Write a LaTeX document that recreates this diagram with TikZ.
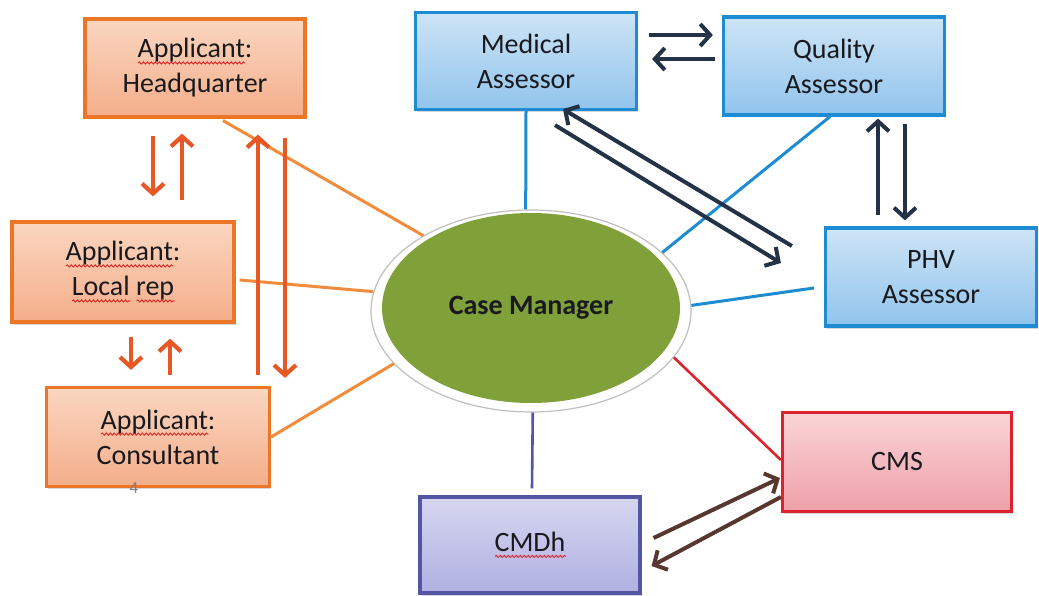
\documentclass[tikz,border=0pt]{standalone}
\usepackage{fontspec}
\setmainfont{Carlito}
\usetikzlibrary{shapes.geometric,arrows.meta,shadows,decorations.pathmorphing}

\definecolor{textdark}{RGB}{25,25,30}
\definecolor{orangeedge}{RGB}{236,118,40}
\definecolor{orangetop}{RGB}{250,214,192}
\definecolor{orangebot}{RGB}{244,174,138}
\definecolor{orangelink}{RGB}{240,140,60}
\definecolor{orangearrow}{RGB}{232,88,38}
\definecolor{blueedge}{RGB}{30,140,210}
\definecolor{bluetop}{RGB}{205,228,246}
\definecolor{bluebot}{RGB}{145,196,236}
\definecolor{navy}{RGB}{35,50,70}
\definecolor{cmgreen}{RGB}{128,160,58}
\definecolor{redEdge}{RGB}{220,35,45}
\definecolor{pinktop}{RGB}{250,212,214}
\definecolor{pinkbot}{RGB}{238,160,170}
\definecolor{purpleEdge}{RGB}{85,85,165}
\definecolor{lavtop}{RGB}{214,214,240}
\definecolor{lavbot}{RGB}{176,176,226}
\definecolor{brownarrow}{RGB}{88,56,46}
\definecolor{wavered}{RGB}{225,40,40}
\definecolor{pagegray}{RGB}{120,125,135}

% red wavy underline under a word
\newsavebox\spellbox
\newcommand\spellmark[1]{%
  \sbox\spellbox{#1}%
  \rlap{\raisebox{-5pt}{\tikz[baseline=(w.base), x=1pt, y=1pt]{%
    \coordinate (w) at (0pt,0pt);
    \draw[wavered, line width=0.9pt, decorate,
      decoration={snake, amplitude=1.1pt, segment length=4pt}]
      (0pt,0pt) -- (\wd\spellbox,0pt);}}}%
  \usebox\spellbox}

\tikzset{
  box/.style={draw, line width=3.2pt, align=center, text=textdark,
    font=\fontsize{28}{35}\selectfont, inner sep=0pt,
    drop shadow={shadow xshift=1.5pt, shadow yshift=-2.5pt, opacity=0.3}},
  applicant/.style={box, draw=orangeedge, top color=orangetop, bottom color=orangebot},
  assessor/.style={box, draw=blueedge, top color=bluetop, bottom color=bluebot},
  cmsbox/.style={box, draw=redEdge, top color=pinktop, bottom color=pinkbot},
  cmdhbox/.style={box, draw=purpleEdge, top color=lavtop, bottom color=lavbot},
  orangelinkline/.style={draw=orangelink, line width=3pt},
  bluelinkline/.style={draw=blueedge, line width=3pt},
  oarrow/.style={draw=orangearrow, line width=4.2pt,
    -{Straight Barb[length=10pt,width=22pt,line width=4.2pt]}},
  narrow/.style={draw=navy, line width=4pt,
    -{Straight Barb[length=10pt,width=22pt,line width=4pt]}},
  barrow/.style={draw=brownarrow, line width=4pt,
    -{Straight Barb[length=10pt,width=22pt,line width=4pt]}},
}

\begin{document}
\begin{tikzpicture}[x=1pt,y=-1pt]
\useasboundingbox (0,0) rectangle (1039,596);

% applicant side
\node[applicant, minimum width=220pt, minimum height=98pt] (hq) at (195,68)
  {\spellmark{Applicant}:\\Headquarter};
\node[applicant, minimum width=222pt, minimum height=100pt] (loc) at (123,272)
  {\spellmark{Applicant}:\\\spellmark{Local} \spellmark{rep}};
\node[applicant, minimum width=223pt, minimum height=99pt] (con) at (158,437)
  {\spellmark{Applicant}:\\Consultant};
\node[text=pagegray, font=\fontsize{17}{17}\selectfont] (pagenum) at (134,488) {4};

% assessors
\node[assessor, minimum width=221pt, minimum height=97pt] (med) at (526,61)
  {Medical\\Assessor};
\node[assessor, minimum width=221pt, minimum height=98pt] (qua) at (834,66)
  {Quality\\Assessor};
\node[assessor, minimum width=211pt, minimum height=98pt] (phv) at (931,277)
  {PHV\\Assessor};

% committees
\node[cmsbox, minimum width=229pt, minimum height=99pt] (cms) at (897,462) {CMS};
\node[cmdhbox, minimum width=220pt, minimum height=96pt] (cmdh) at (530,545)
  {\spellmark{CMDh}};

% case manager
\node[ellipse, draw=gray!50, line width=1.2pt, fill=white,
  minimum width=320pt, minimum height=202pt] (cm) at (531,311) {};
\node[ellipse, fill=cmgreen, inner sep=0pt,
  minimum width=298pt, minimum height=190pt, text=textdark,
  font=\fontsize{28}{35}\selectfont\bfseries] (cmcore) at (531,308) {Case Manager};

% links to the case manager
\draw[orangelinkline] ([xshift=28pt,yshift=-2pt]hq.south) -- (cm.145);
\draw[orangelinkline] ([xshift=4pt,yshift=-8pt]loc.east) -- (cm.173);
\draw[orangelinkline] (con.east) -- (cm.-159);
\draw[bluelinkline] (med.south) -- (cm.93);
\draw[bluelinkline] ([xshift=-4pt]qua.south) -- (cm.24);
\draw[bluelinkline] ([xshift=-10pt,yshift=-11pt]phv.west) -- (cm.2);
\draw[draw=redEdge, line width=2.6pt] (cm.-18) -- ([yshift=2pt]cms.west);
\draw[draw=purpleEdge, line width=2.6pt] (cm.-89.5) -- ([xshift=2pt,yshift=7pt]cmdh.north);

% applicant exchanges
\draw[oarrow] ([xshift=-42pt,yshift=-17pt]hq.south) -- ([xshift=30pt,yshift=24pt]loc.north);
\draw[oarrow] ([xshift=59pt,yshift=20pt]loc.north) -- ([xshift=-13pt,yshift=-15pt]hq.south);
\draw[oarrow] ([xshift=100pt,yshift=11pt]con.north) -- ([xshift=63pt,yshift=-16pt]hq.south);
\draw[oarrow] ([xshift=90pt,yshift=-19pt]hq.south) -- ([xshift=127pt,yshift=8pt]con.north);
\draw[oarrow] ([xshift=8pt,yshift=-13pt]loc.south) -- ([xshift=-27pt,yshift=16pt]con.north);
\draw[oarrow] ([xshift=12pt,yshift=11pt]con.north) -- ([xshift=47pt,yshift=-15pt]loc.south);

% assessor exchanges
\draw[narrow] ([xshift=11pt,yshift=26pt]med.east) -- ([xshift=-9pt,yshift=31pt]qua.west);
\draw[narrow] ([xshift=-7pt,yshift=7pt]qua.west) -- ([xshift=14pt,yshift=2pt]med.east);
\draw[narrow] ([xshift=29pt,yshift=-14pt]med.south) -- ([xshift=-43pt,yshift=14pt]phv.west);
\draw[narrow] ([xshift=-32pt,yshift=31pt]phv.west) -- ([xshift=37pt,yshift=2pt]med.south);
\draw[narrow] ([xshift=-53pt,yshift=11pt]phv.north) -- ([xshift=44pt,yshift=-2pt]qua.south);
\draw[narrow] ([xshift=71pt,yshift=-7pt]qua.south) -- ([xshift=-26pt,yshift=6pt]phv.north);

% committee exchanges
\draw[barrow] ([xshift=12pt,yshift=7pt]cmdh.east) -- ([xshift=-1pt,yshift=-16pt]cms.west);
\draw[barrow] ([yshift=-35pt]cms.west) -- ([xshift=10pt,yshift=-21pt]cmdh.east);
\end{tikzpicture}
\end{document}
